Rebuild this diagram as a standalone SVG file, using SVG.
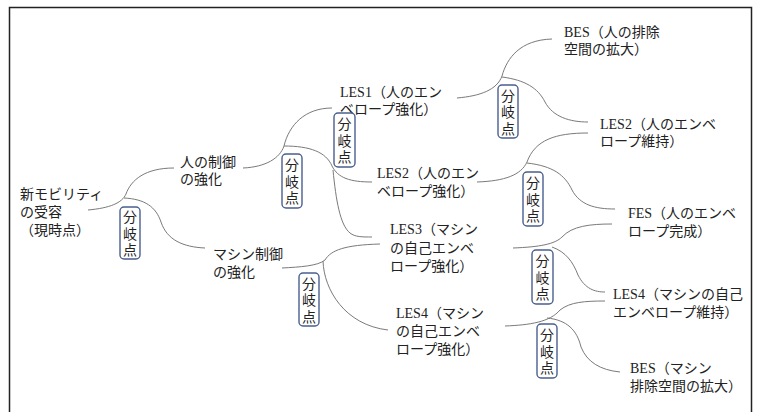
<svg xmlns="http://www.w3.org/2000/svg" width="757" height="412" viewBox="0 0 757 412">
<style>
.t{font-family:"Liberation Serif","Noto Sans CJK JP",serif;font-size:14px;fill:#222}
.b{font-family:"Noto Sans CJK JP",sans-serif;font-size:14px;fill:#222;text-anchor:middle;writing-mode:vertical-rl;letter-spacing:2.5px}
.br{fill:#fff;stroke:#4a5f8f;stroke-width:1.4}
.c{fill:none;stroke:#7a7a7a;stroke-width:1}
</style>
<rect width="757" height="412" fill="#fff"/>
<path d="M9.5,420 V7.5 H751.5 V420" fill="none" stroke="#222" stroke-width="1.5"/>
<g id="connectors">
<path class="c" d="M88,210 C110,208 122,203 126,194 C131,180 145,168 174,168"/>
<path class="c" d="M124,198 C145,199 156,207 161,222 C167,240 183,247 205,248"/>
<path class="c" d="M243,168 C266,167 280,158 284,146 C289,125 305,108 332,108"/>
<path class="c" d="M284,146 C310,146 326,152 332,166 C338,178 350,182 372,182"/>
<path class="c" d="M333,170 C336,200 340,225 350,233 C355,237 362,237 372,237"/>
<path class="c" d="M282,268 C300,267 318,266 325,260 C331,250 345,245 380,244"/>
<path class="c" d="M323,261 C324,290 345,325 388,330"/>
<path class="c" d="M457,98 C480,96 497,90 502,76 C507,58 520,40 552,39"/>
<path class="c" d="M502,77 C525,80 538,88 545,102 C553,117 570,122 588,122"/>
<path class="c" d="M477,182 C505,181 521,175 527,162 C535,140 555,133 588,133"/>
<path class="c" d="M527,163 C553,166 565,175 572,190 C580,205 595,209 615,209"/>
<path class="c" d="M513,248 C540,247 555,244 562,237 C572,226 590,224 612,224"/>
<path class="c" d="M552,247 C566,252 573,262 578,275 C585,289 595,292 605,292"/>
<path class="c" d="M505,326 C530,325 550,322 560,310 C570,302 585,301 605,301"/>
<path class="c" d="M547,318 C567,320 577,330 581,347 C587,362 600,370 620,372"/>
</g>
<g id="root"><text class="t"><tspan x="20" y="199">新モビリティ</tspan><tspan x="20" y="217">の受容</tspan><tspan x="20" y="235">（現時点）</tspan></text></g>
<g id="human"><text class="t"><tspan x="180" y="167">人の制御</tspan><tspan x="180" y="184">の強化</tspan></text></g>
<g id="machine"><text class="t"><tspan x="213" y="259">マシン制御</tspan><tspan x="213" y="277">の強化</tspan></text></g>
<g id="les1"><text class="t"><tspan x="340" y="97">LES1（人のエン</tspan><tspan x="340" y="114">ベロープ強化）</tspan></text></g>
<g id="bes1"><text class="t"><tspan x="564" y="37">BES（人の排除</tspan><tspan x="564" y="54">空間の拡大）</tspan></text></g>
<g id="les2a"><text class="t"><tspan x="600" y="129">LES2（人のエンベ</tspan><tspan x="600" y="146">ロープ維持）</tspan></text></g>
<g id="les2b"><text class="t"><tspan x="377" y="178">LES2（人のエン</tspan><tspan x="377" y="196">ベロープ強化）</tspan></text></g>
<g id="fes"><text class="t"><tspan x="628" y="218">FES（人のエンベ</tspan><tspan x="628" y="236">ロープ完成）</tspan></text></g>
<g id="les3"><text class="t"><tspan x="390" y="234">LES3（マシン</tspan><tspan x="390" y="253">の自己エンベ</tspan><tspan x="390" y="271">ロープ強化）</tspan></text></g>
<g id="les4a"><text class="t"><tspan x="613" y="299">LES4（マシンの自己</tspan><tspan x="613" y="317">エンベロープ維持）</tspan></text></g>
<g id="les4b"><text class="t"><tspan x="396" y="318">LES4（マシン</tspan><tspan x="396" y="336">の自己エンベ</tspan><tspan x="396" y="354">ロープ強化）</tspan></text></g>
<g id="bes2"><text class="t"><tspan x="630" y="373">BES（マシン</tspan><tspan x="630" y="391">排除空間の拡大）</tspan></text></g>
<g id="branch1"><rect class="br" x="120" y="207" width="20" height="52" rx="4"/><text class="b" x="130" y="234.5">分岐点</text></g>
<g id="branch2"><rect class="br" x="282" y="154" width="20" height="54" rx="4"/><text class="b" x="292" y="182.5">分岐点</text></g>
<g id="branch3"><rect class="br" x="334" y="113" width="21" height="54" rx="4"/><text class="b" x="344.5" y="141.5">分岐点</text></g>
<g id="branch4"><rect class="br" x="498" y="85" width="20" height="53" rx="4"/><text class="b" x="508" y="113">分岐点</text></g>
<g id="branch5"><rect class="br" x="523" y="172" width="20" height="54" rx="4"/><text class="b" x="533" y="200.5">分岐点</text></g>
<g id="branch6"><rect class="br" x="299" y="273" width="20" height="53" rx="4"/><text class="b" x="309" y="301">分岐点</text></g>
<g id="branch7"><rect class="br" x="532" y="250" width="21" height="54" rx="4"/><text class="b" x="542.5" y="278.5">分岐点</text></g>
<g id="branch8"><rect class="br" x="537" y="324" width="20" height="54" rx="4"/><text class="b" x="547" y="352.5">分岐点</text></g>
</svg>
